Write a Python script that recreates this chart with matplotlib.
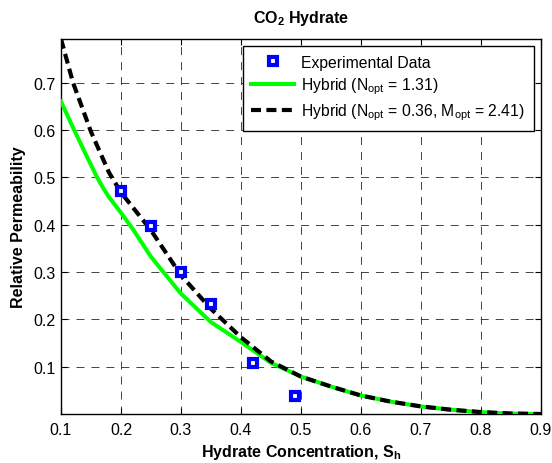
import matplotlib
matplotlib.use("Agg")
import matplotlib.pyplot as plt

plt.rcParams['font.family'] = ['Liberation Sans', 'DejaVu Sans']
plt.rcParams['mathtext.fontset'] = 'custom'
plt.rcParams['mathtext.rm'] = 'Liberation Sans'
plt.rcParams['mathtext.bf'] = 'Liberation Sans:bold'

# Experimental data
exp_x = [0.20, 0.25, 0.30, 0.35, 0.42, 0.49]
exp_y = [0.470, 0.398, 0.299, 0.232, 0.108, 0.039]

# Hybrid model curve (N_opt = 1.31)
green_x = [0.10, 0.12, 0.14, 0.16, 0.17, 0.18, 0.20, 0.22, 0.25, 0.30, 0.35, 0.40, 0.45,
           0.50, 0.55, 0.60, 0.65, 0.70, 0.75, 0.80, 0.85, 0.90]
green_y = [0.660, 0.605, 0.552, 0.500, 0.478, 0.458, 0.425, 0.390, 0.332, 0.254, 0.194,
           0.152, 0.108, 0.079, 0.058, 0.039, 0.026, 0.016, 0.009, 0.004, 0.001, 0.000]

# Hybrid model curve (N_opt = 0.36, M_opt = 2.41)
black_x = [0.10, 0.12, 0.15, 0.18, 0.20, 0.25, 0.30, 0.35, 0.40, 0.45, 0.50,
           0.55, 0.60, 0.65, 0.70, 0.75, 0.80, 0.85, 0.90]
black_y = [0.792, 0.700, 0.596, 0.510, 0.468, 0.388, 0.293, 0.222, 0.162, 0.111, 0.079,
           0.058, 0.039, 0.026, 0.016, 0.009, 0.004, 0.001, 0.000]

xticks = [0.1, 0.2, 0.3, 0.4, 0.5, 0.6, 0.7, 0.8, 0.9]
yticks = [0.1, 0.2, 0.3, 0.4, 0.5, 0.6, 0.7]

fig = plt.figure(figsize=(5.52, 4.64), dpi=100)
ax = fig.add_axes([0.1105, 0.1056, 0.8695, 0.8082])

ax.plot(exp_x, exp_y, linestyle='none', marker='s', markersize=6.2,
        markeredgewidth=3.0, markeredgecolor='#0000ff', markerfacecolor='white',
        label='Experimental Data', zorder=5)
ax.plot(green_x, green_y, color='#00ff00', linewidth=2.9,
        label='Hybrid (N$_{\\mathrm{opt}}$ = 1.31)', zorder=3)
ax.plot(black_x, black_y, color='black', linewidth=3.0, dashes=(2.4, 1.3),
        label='Hybrid (N$_{\\mathrm{opt}}$ = 0.36, M$_{\\mathrm{opt}}$ = 2.41)', zorder=4)

ax.set_xlim(0.1, 0.9)
ax.set_ylim(0.0, 0.792)
ax.set_xticks(xticks)
ax.set_yticks(yticks)
ax.set_xticklabels([f'{v:g}' for v in xticks])
ax.set_yticklabels([f'{v:g}' for v in yticks])
ax.tick_params(direction='in', top=True, right=True, length=4, width=0.8,
               labelsize=11.5, colors='black')
ax.tick_params(axis='x', pad=6)
ax.tick_params(axis='y', pad=4)
ax.grid(True, color='#222222', linestyle=(0, (8.2, 7.2)), linewidth=0.7, alpha=0.85)
for s in ax.spines.values():
    s.set_linewidth(1.0)

ax.set_xlabel('Hydrate Concentration, S$_{\\mathbf{h}}$', fontsize=11.5, fontweight='bold', labelpad=3)
ax.set_ylabel('Relative Permeability', fontsize=11.5, fontweight='bold', labelpad=5)
ax.set_title('CO$_{\\mathbf{2}}$ Hydrate', fontsize=11.5, fontweight='bold', pad=12)

leg = ax.legend(loc='upper right', fontsize=11.3, frameon=True, fancybox=False,
                edgecolor='black', framealpha=1, handlelength=2.75, handletextpad=0.45,
                borderaxespad=0.45, labelspacing=0.35, borderpad=0.55)
leg.get_frame().set_linewidth(1.0)

fig.savefig('out.png', dpi=100)
